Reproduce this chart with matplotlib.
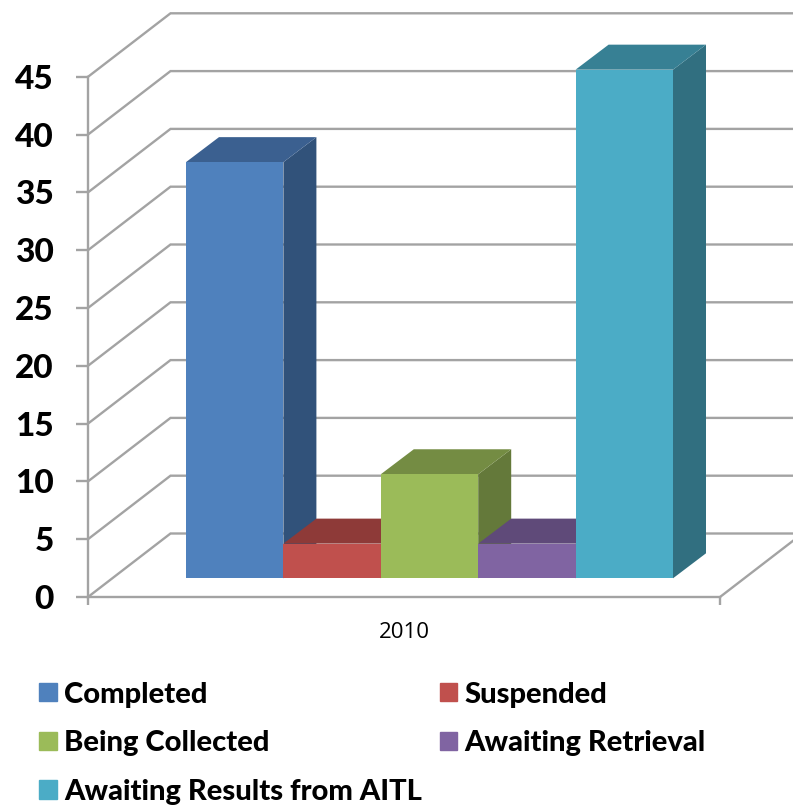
import matplotlib
matplotlib.use('Agg')
import matplotlib.pyplot as plt
from matplotlib.patches import Patch, Polygon

# Chart values
series_names = ['Completed', 'Suspended', 'Being Collected', 'Awaiting Retrieval', 'Awaiting Results from AITL']
series_values = [36, 3, 9, 3, 44]
year_label = '2010'
y_ticks = [0, 5, 10, 15, 20, 25, 30, 35, 40, 45]

# Colours: front, top, side of each bar
front_colors = ['#4F81BD', '#C0504D', '#9BBB59', '#8064A2', '#4BACC6']
top_colors = ['#3B6090', '#8E3A38', '#748C43', '#5F4A79', '#378094']
side_colors = ['#31527A', '#783130', '#64793A', '#513E68', '#316F80']
grid_color = '#A3A3A3'

W, H = 793, 805
X_ZERO_PX = 186.0    # left edge of first bar
BAR_PX = 97.4        # one bar width, one x unit
Y_ZERO_PX = 597.0    # value 0 on the front axis
UNIT_PX = 11.56      # one y unit

fig = plt.figure(figsize=(W / 100, H / 100), dpi=100)
ax = fig.add_axes([0, 0, 1, 1])
ax.set_xlim(-X_ZERO_PX / BAR_PX, (W - X_ZERO_PX) / BAR_PX)
ax.set_ylim(-(H - Y_ZERO_PX) / UNIT_PX, Y_ZERO_PX / UNIT_PX)
ax.patch.set_alpha(0)

# Depth offsets, in data units
axis_left = (88 - X_ZERO_PX) / BAR_PX
axis_right = (720 - X_ZERO_PX) / BAR_PX
wall_dx = 82.5 / BAR_PX
wall_dy = 63.5 / UNIT_PX
bar_dx = 33 / BAR_PX
bar_dy = 25 / UNIT_PX
bar_floor = (Y_ZERO_PX - 578.3) / UNIT_PX

# Walls: slanted line then back line for every gridline
for v in y_ticks:
    ax.plot([axis_left, axis_left + wall_dx, axis_right + wall_dx],
            [v, v + wall_dy, v + wall_dy], color=grid_color, lw=1.7, zorder=1,
            solid_joinstyle='miter')
ax.plot([axis_right, axis_right + wall_dx], [0, wall_dy], color=grid_color, lw=1.7, zorder=1)

# Bars, left to right so the later ones cover the earlier ones
for i, v in enumerate(series_values):
    top = bar_floor + v
    ax.add_patch(Polygon([(i + 1, bar_floor), (i + 1 + bar_dx, bar_floor + bar_dy),
                          (i + 1 + bar_dx, top + bar_dy), (i + 1, top)],
                         fc=side_colors[i], ec='none', zorder=2 + i))
    ax.add_patch(Polygon([(i, top), (i + bar_dx, top + bar_dy),
                          (i + 1 + bar_dx, top + bar_dy), (i + 1, top)],
                         fc=top_colors[i], ec='none', zorder=2 + i))
    ax.add_patch(Polygon([(i, bar_floor), (i + 1, bar_floor), (i + 1, top), (i, top)],
                         fc=front_colors[i], ec='none', zorder=2 + i))

# Axes
for s in ['top', 'right']:
    ax.spines[s].set_visible(False)
ax.spines['left'].set_position(('data', axis_left))
ax.spines['left'].set_bounds(0, 45)
ax.spines['bottom'].set_position(('data', 0))
ax.spines['bottom'].set_bounds(axis_left, axis_right)
for s in ['left', 'bottom']:
    ax.spines[s].set_color(grid_color)
    ax.spines[s].set_linewidth(1.7)
    ax.spines[s].set_zorder(1)

ax.set_yticks(y_ticks)
ax.set_yticklabels([str(v) for v in y_ticks], fontfamily='Lato', fontweight=900, fontsize=24)
ax.tick_params(axis='y', length=8.5, width=1.7, color=grid_color, pad=16)
ax.set_xticks([axis_left, axis_right])
ax.set_xticklabels(['', ''])
ax.tick_params(axis='x', length=6, width=1.7, color=grid_color)
ax.text((axis_left + axis_right) / 2, -(632 - Y_ZERO_PX) / UNIT_PX, year_label,
        ha='center', va='center', fontfamily='Open Sans', fontsize=16)

# Legend, filled by column so rows read like the original
handles = [Patch(color=c) for c in front_colors]
order = [0, 2, 4, 1, 3]
fig.legend([handles[i] for i in order], [series_names[i] for i in order],
           ncol=2, loc='lower left', bbox_to_anchor=(39 / W, 0), borderaxespad=0, borderpad=0,
           frameon=False, handlelength=0.6, handleheight=0.6, handletextpad=0.25,
           labelspacing=0.78, columnspacing=0.62,
           prop={'family': 'Lato', 'weight': 900, 'size': 21})

fig.savefig('out.png', dpi=100)
